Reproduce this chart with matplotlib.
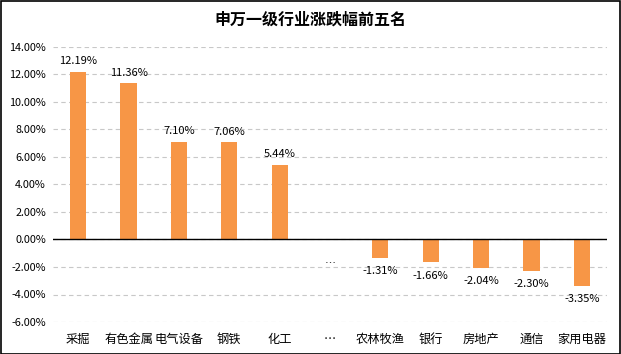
import matplotlib.pyplot as plt
from matplotlib.patches import Rectangle
import numpy as np

plt.rcParams['font.family'] = ['Noto Sans CJK SC', 'DejaVu Sans']

categories = ["采掘", "有色金属", "电气设备", "钢铁", "化工", "…",
              "农林牧渔", "银行", "房地产", "通信", "家用电器"]
values = [12.19, 11.36, 7.10, 7.06, 5.44, 0.0,
          -1.31, -1.66, -2.04, -2.30, -3.35]
labels = ["12.19%", "11.36%", "7.10%", "7.06%", "5.44%", "…",
          "-1.31%", "-1.66%", "-2.04%", "-2.30%", "-3.35%"]
yticks = np.arange(-6, 16, 2)

W, H = 621, 354
fig = plt.figure(figsize=(W / 100, H / 100), dpi=100)
ax = fig.add_axes([53 / W, 1 - 322 / H, (607 - 53) / W, (322 - 47) / H])

x = np.arange(len(categories))
ax.bar(x, values, width=0.32, color="#F79646", zorder=3)

for xi, v, lab in zip(x, values, labels):
    if v > 0:
        ax.annotate(lab, (xi, v), textcoords="offset points", xytext=(0, 4),
                    ha="center", va="bottom", fontsize=8)
    elif v < 0:
        ax.annotate(lab, (xi, v), textcoords="offset points", xytext=(0, -6),
                    ha="center", va="top", fontsize=8)
    else:
        ax.annotate(lab, (xi, v), textcoords="offset points", xytext=(0, -14),
                    ha="center", va="top", fontsize=8)

ax.set_xlim(-0.5, len(categories) - 0.5)
ax.set_ylim(-6, 14)
ax.set_yticks(yticks)
ax.set_yticklabels([f"{t:.2f}%" for t in yticks], fontsize=7.8)
ax.set_xticks(x)
ax.set_xticklabels(categories, fontsize=8.8)
ax.tick_params(length=0)
ax.tick_params(axis="x", pad=8)
ax.tick_params(axis="y", pad=5)
for s in ax.spines.values():
    s.set_visible(False)
ax.grid(axis="y", linestyle=(0, (4, 3)), color="#C8C8C8", linewidth=0.8, zorder=0)
ax.axhline(0, color="black", linewidth=1, zorder=4)

fig.text(0.5, 1 - 20 / H, "申万一级行业涨跌幅前五名", ha="center", va="center",
         fontsize=11.5, fontweight="bold")
fig.patches.append(Rectangle((0.5 / W, 0.5 / H), 1 - 1.5 / W, 1 - 1.5 / H,
                             transform=fig.transFigure, fill=False,
                             edgecolor="black", linewidth=1.2))

fig.savefig("out.png", dpi=100)
